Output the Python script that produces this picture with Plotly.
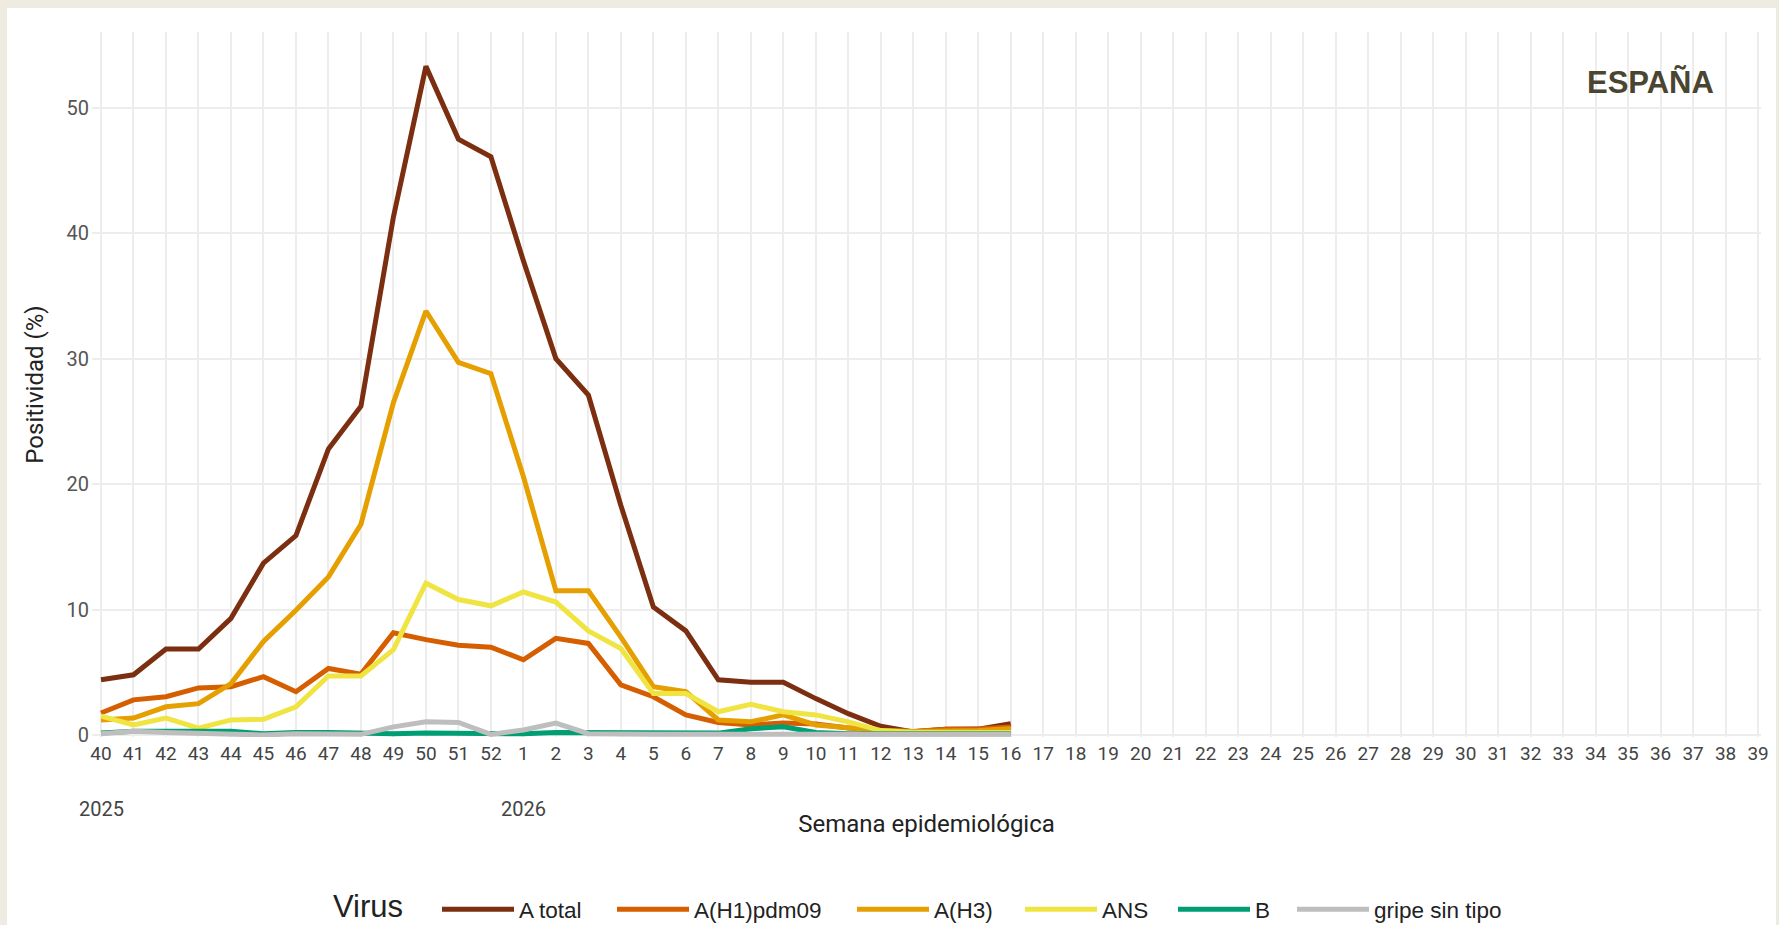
import plotly.graph_objects as go

# ---- data ----
weeks = [str(w) for w in range(40, 53)] + [str(w) for w in range(1, 40)]
n_obs = 29  # weeks 40/2025 .. 16/2026 with data

a_total = [4.4, 4.8, 6.85, 6.85, 9.3, 13.7, 15.9, 22.8, 26.2, 41.3, 53.3, 47.5, 46.1,
           37.8, 30.0, 27.1, 18.3, 10.2, 8.3, 4.4, 4.2, 4.2, 2.9, 1.7, 0.7, 0.25, 0.45, 0.47, 0.9]
a_h1 = [1.75, 2.8, 3.05, 3.75, 3.85, 4.65, 3.45, 5.3, 4.85, 8.15, 7.6, 7.15, 7.0,
        6.0, 7.7, 7.3, 4.0, 3.05, 1.6, 1.0, 0.8, 0.95, 0.88, 0.55, 0.35, 0.27, 0.45, 0.47, 0.64]
a_h3 = [1.2, 1.35, 2.25, 2.5, 4.1, 7.45, 9.95, 12.6, 16.8, 26.5, 33.8, 29.7, 28.8,
        20.6, 11.5, 11.5, 7.8, 3.85, 3.45, 1.2, 1.05, 1.6, 0.8, 0.55, 0.35, 0.27, 0.3, 0.35, 0.5]
ans = [1.5, 0.8, 1.35, 0.55, 1.2, 1.25, 2.25, 4.7, 4.7, 6.8, 12.1, 10.8, 10.3,
       11.4, 10.6, 8.3, 6.9, 3.3, 3.3, 1.85, 2.45, 1.85, 1.6, 1.05, 0.35, 0.2, 0.2, 0.2, 0.2]
b = [0.15, 0.3, 0.3, 0.3, 0.3, 0.1, 0.2, 0.2, 0.15, 0.1, 0.15, 0.15, 0.15,
     0.1, 0.2, 0.2, 0.2, 0.15, 0.15, 0.15, 0.5, 0.65, 0.2, 0.1, 0.1, 0.1, 0.1, 0.1, 0.1]
sin_tipo = [0.1, 0.3, 0.2, 0.15, 0.1, 0.0, 0.1, 0.1, 0.05, 0.65, 1.05, 1.0, 0.05,
            0.4, 0.95, 0.1, 0.05, 0.05, 0.05, 0.05, 0.05, 0.05, 0.05, 0.05, 0.05, 0.05, 0.05, 0.05, 0.05]

series_names = ["A total", "A(H1)pdm09", "A(H3)", "ANS", "B", "gripe sin tipo"]
series_values = [a_total, a_h1, a_h3, ans, b, sin_tipo]
series_colors = ["#7B2F10", "#D55E00", "#E69F00", "#F0E442", "#009E73", "#BEBEBE"]
legend_text_widths = [88, 153, 81, 66, 32, 140]

year_labels = ["2025", "2026"]
year_weeks = ["40", "1"]

# ---- figure ----
W, H = 1779, 925
L, R, T, B = 92, 18, 32, 188
pw, ph = W - L - R, H - T - B

fig = go.Figure()
for name, vals, col, lw in zip(series_names, series_values, series_colors, legend_text_widths):
    fig.add_trace(go.Scatter(
        x=weeks[:n_obs], y=vals, name=name, mode="lines",
        line=dict(color=col, width=5), legendwidth=lw,
    ))

def px_x(p):
    return (p - L) / pw

def px_y(p):
    return (H - B - p) / ph

# white panel on beige background
fig.add_shape(type="rect", xref="paper", yref="paper",
              x0=px_x(7), x1=px_x(1776), y0=px_y(940), y1=px_y(8),
              fillcolor="white", line=dict(width=0), layer="below")

for lab, wk in zip(year_labels, year_weeks):
    fig.add_annotation(x=weeks.index(wk), xref="x", y=px_y(809), yref="paper", text=lab,
                       showarrow=False, xanchor="center", yanchor="middle",
                       font=dict(family="Roboto, Arial, sans-serif", size=20, color="#444"))

fig.add_annotation(x=px_x(1650), y=px_y(82), xref="paper", yref="paper", text="<b>ESPAÑA</b>",
                   showarrow=False, xanchor="center", yanchor="middle",
                   font=dict(family="Liberation Sans, Arial, sans-serif", size=31, color="#4A4530"))

fig.add_annotation(x=px_x(331), y=px_y(906), xref="paper", yref="paper", text="Virus",
                   showarrow=False, xanchor="left", yanchor="middle",
                   font=dict(family="Liberation Sans, Arial, sans-serif", size=31, color="#222"))

fig.update_layout(
    width=W, height=H,
    margin=dict(l=L, r=R, t=T, b=B, autoexpand=False),
    paper_bgcolor="#EEEBE0",
    plot_bgcolor="rgba(0,0,0,0)",
    font=dict(family="Roboto, Arial, sans-serif", color="#333"),
    xaxis=dict(
        type="category", categoryorder="array", categoryarray=weeks,
        tickvals=weeks, ticktext=weeks,
        range=[-0.277, 51.09],
        showgrid=True, gridcolor="#EDEDED", gridwidth=2,
        zeroline=False, showline=False, ticks="", ticklabelstandoff=3,
        tickfont=dict(size=19, color="#444"),
        title=dict(text="Semana epidemiológica", standoff=51,
                   font=dict(size=24, color="#222")),
    ),
    yaxis=dict(
        range=[-0.16, 56.04], dtick=10,
        showgrid=True, gridcolor="#EDEDED", gridwidth=2,
        zeroline=False, showline=False, ticks="", ticklabelstandoff=2,
        tickfont=dict(size=20, color="#555"),
        title=dict(text="Positividad (%)", standoff=16,
                   font=dict(size=24, color="#222")),
    ),
    legend=dict(
        orientation="h", x=px_x(437), xanchor="left", y=px_y(909.5), yanchor="middle",
        bgcolor="rgba(0,0,0,0)", itemwidth=72,
        font=dict(family="Liberation Sans, Arial, sans-serif", size=22.5, color="#222"),
    ),
    showlegend=True,
)

fig.write_html("out.html", config={"displayModeBar": False},
               post_script="document.body.style.margin='0';")
